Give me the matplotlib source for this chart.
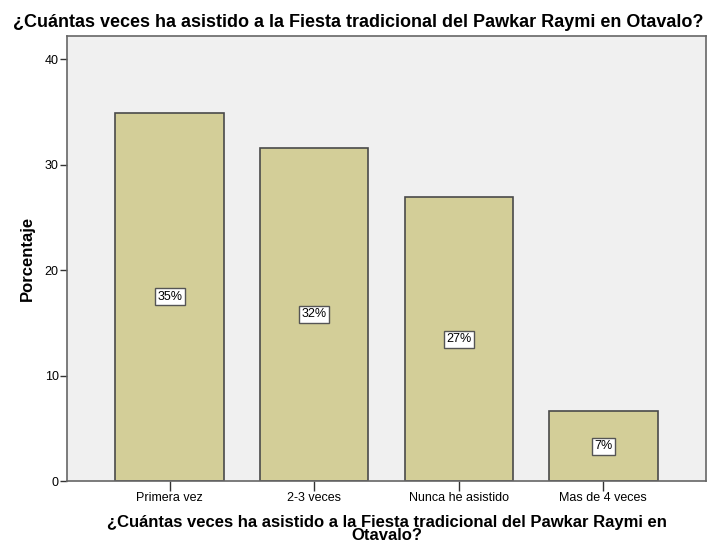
import matplotlib.pyplot as plt

# datos del grafico (porcentajes)
categorias = ['Primera vez', '2-3 veces', 'Nunca he asistido', 'Mas de 4 veces']
porcentajes = [34.9, 31.6, 26.9, 6.6]
etiquetas = ['35%', '32%', '27%', '7%']

plt.rcParams['font.family'] = ['Liberation Sans', 'DejaVu Sans']

fig = plt.figure(figsize=(7.09, 5.44), dpi=100)
ax = fig.add_axes([0.0945, 0.1158, 0.9013, 0.818])
ax.set_facecolor('#F0F0F0')

x = range(len(categorias))
ax.bar(x, porcentajes, width=0.75, color='#D3CE98',
       edgecolor='#4a4a4a', linewidth=1.2, zorder=2)

# etiquetas en el centro de cada barra
for i, (v, txt) in enumerate(zip(porcentajes, etiquetas)):
    ax.text(i, v / 2, txt, ha='center', va='center', fontsize=9, zorder=3,
            bbox=dict(boxstyle='square,pad=0.2', facecolor='white',
                      edgecolor='#555555', linewidth=1))

ax.set_xlim(-0.71, 3.71)
ax.set_ylim(0, 42.2)
ax.set_yticks([0, 10, 20, 30, 40])
ax.set_xticks(list(x))
ax.set_xticklabels(categorias, fontsize=9)
ax.tick_params(axis='y', labelsize=9, length=5, width=1, pad=1, color='#333333')
ax.tick_params(axis='x', length=7, width=1, pad=1, color='#333333')

for s in ax.spines.values():
    s.set_color('#666666')
    s.set_linewidth(1.2)

ax.set_ylabel('Porcentaje', fontsize=12, fontweight='bold', labelpad=7)
ax.set_xlabel('¿Cuántas veces ha asistido a la Fiesta tradicional del Pawkar Raymi en\nOtavalo?',
              fontsize=12, fontweight='bold', linespacing=0.8, labelpad=8)

fig.suptitle('¿Cuántas veces ha asistido a la Fiesta tradicional del Pawkar Raymi en Otavalo?',
             x=0.505, y=0.975, fontsize=13, fontweight='bold')

plt.savefig('out.png', dpi=100)
plt.close()
